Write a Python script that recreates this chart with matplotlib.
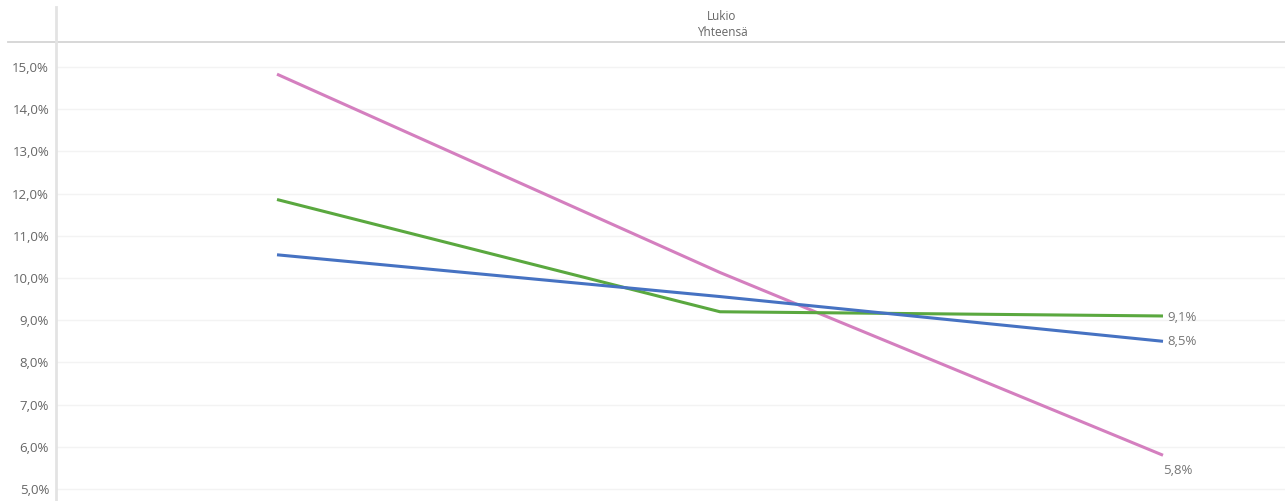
import matplotlib
matplotlib.use("Agg")
import matplotlib.pyplot as plt
from matplotlib.lines import Line2D

# Data
categories = ["A", "B", "C"]
series_names = ["Pink", "Green", "Blue"]
pink_vals = [14.83, 10.13, 5.8]
green_vals = [11.86, 9.2, 9.1]
blue_vals = [10.55, 9.56, 8.5]
end_labels = ["5,8%", "9,1%", "8,5%"]
y_ticks = [5, 6, 7, 8, 9, 10, 11, 12, 13, 14, 15]
header_top = "Lukio"
header_bottom = "Yhteensä"

colors = {"Pink": "#d47fbf", "Green": "#5aa83f", "Blue": "#4672c2"}

W, H = 1285, 501
fig = plt.figure(figsize=(W / 100, H / 100), dpi=100)
fig.patch.set_facecolor("white")
plt.rcParams["font.family"] = ["Open Sans", "DejaVu Sans"]

ax_left, ax_right, ax_top, ax_bottom = 56, 1285, 42, 501
ax = fig.add_axes([ax_left / W, (H - ax_bottom) / H, (ax_right - ax_left) / W, (ax_bottom - ax_top) / H])

x = list(range(len(categories)))
px_per_unit = 443.0
ax.set_xlim(-(277 - ax_left) / px_per_unit, (ax_right - 277) / px_per_unit)
ppp = 42.2
ax.set_ylim(5 - (ax_bottom - 489) / ppp, 15 + (67 - ax_top) / ppp)

for name, vals in zip(series_names, [pink_vals, green_vals, blue_vals]):
    ax.plot(x, vals, color=colors[name], lw=2.2, solid_capstyle="butt", zorder=3)

# end labels
lab_kw = dict(textcoords="offset points", ha="left", va="center", fontsize=9.5, color="#777777")
ax.annotate(end_labels[1], (x[-1], green_vals[-1]), xytext=(3, -1), **lab_kw)
ax.annotate(end_labels[2], (x[-1], blue_vals[-1]), xytext=(3, 0), **lab_kw)
ax.annotate(end_labels[0], (x[-1], pink_vals[-1]), xytext=(0, -11), **lab_kw)

ax.set_yticks(y_ticks)
ax.set_yticklabels([f"{v:.1f}%".replace(".", ",") for v in y_ticks], fontsize=9.5, color="#666666")
ax.set_xticks([])
ax.tick_params(axis="y", length=0, pad=5)
ax.grid(axis="y", color="#f3f3f3", lw=1)
ax.set_axisbelow(True)
for s in ax.spines.values():
    s.set_visible(False)

# header and frame lines
fig.add_artist(Line2D([8 / W, 1], [(H - 42) / H, (H - 42) / H], color="#d4d4d4", lw=1.3, transform=fig.transFigure))
fig.add_artist(Line2D([56 / W, 56 / W], [0, (H - 7) / H], color="#e3e3e3", lw=2, transform=fig.transFigure))
fig.text(722 / W, (H - 16) / H, header_top, ha="center", va="center", fontsize=8.5, color="#666666")
fig.text(722 / W, (H - 32) / H, header_bottom, ha="center", va="center", fontsize=8.5, color="#666666")

fig.savefig("out.png", dpi=100, facecolor="white")
